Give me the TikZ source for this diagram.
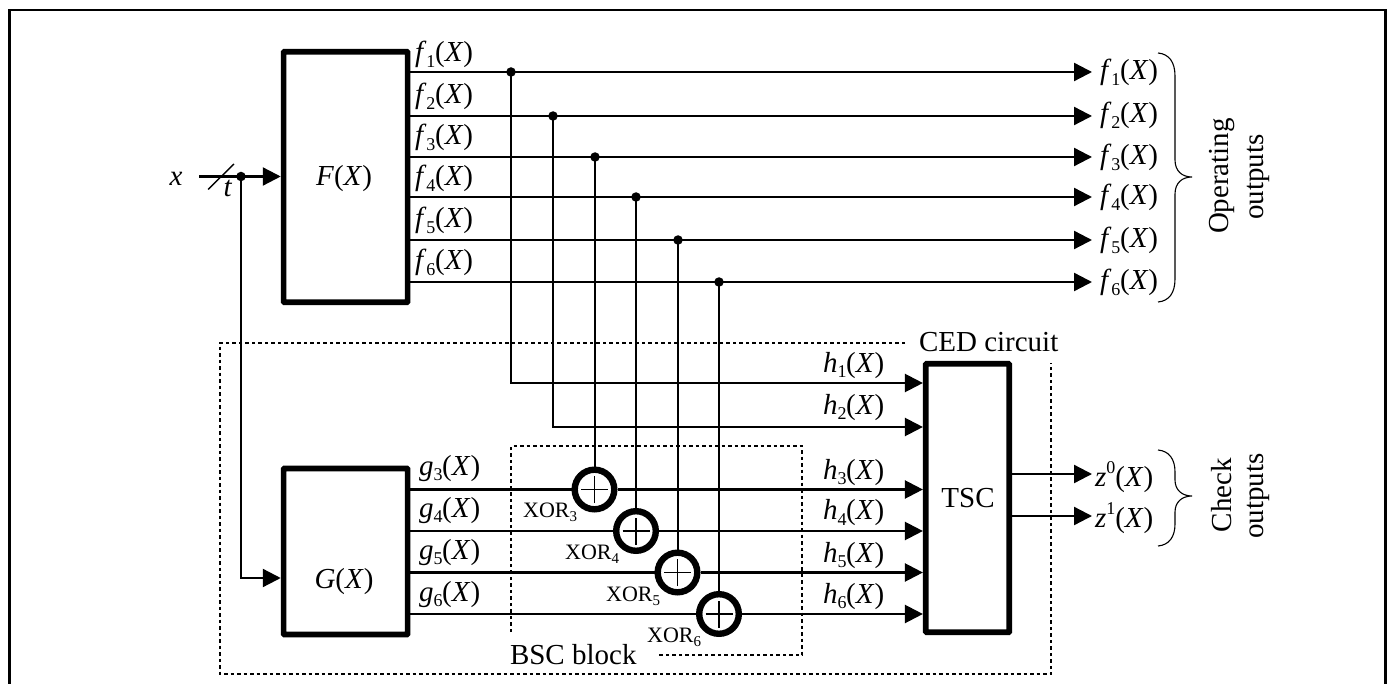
\documentclass[tikz,border=0pt]{standalone}
\usepackage{fontspec}
\setmainfont{Liberation Serif}
\usetikzlibrary{arrows.meta}
\newcommand{\lab}[2]{\textit{#1}\raisebox{-0.2em}{\fontsize{18}{18}\selectfont #2}\kern-0.3pt(\textit{X})}
\newcommand{\labup}[2]{\textit{#1}\raisebox{0.42em}{\fontsize{18}{18}\selectfont #2}(\textit{X})}
\newcommand{\xorlab}[1]{XOR\raisebox{-0.2em}{\fontsize{15}{15}\selectfont #1}}
\begin{document}
\begin{tikzpicture}[x=1pt,y=-1pt,
  every node/.style={font=\fontsize{29}{31}\selectfont},
  wire/.style={line width=2.3pt},
  arr/.style={wire,-{Triangle[length=18pt,width=18pt]}},
  block/.style={draw,line width=5.7pt,rounded corners=0.8pt,inner sep=0pt,align=center},
  dotn/.style={circle,fill=black,inner sep=0pt,minimum size=9.5pt},
  xorn/.style={circle,draw,line width=6.4pt,inner sep=0pt,minimum size=39.6pt},
  txt/.style={anchor=base west,inner sep=0pt,outer sep=0pt},
  small/.style={anchor=base west,inner sep=0pt,font=\fontsize{22}{24}\selectfont},
  rot/.style={rotate=90,inner sep=0pt},
  dot box/.style={line width=2pt,dash pattern=on 3.5pt off 3pt},
  brace/.style={line width=1.1pt}]
\useasboundingbox (0,0) rectangle (1391,684);
% frame
\draw[line width=2.7pt] (9.6,684) -- (9.6,10) -- (1385.7,10) -- (1385.7,684);
% dotted boxes
\draw[dot box] (905,342.5) -- (220,342.5) -- (220,674) -- (1051,674) -- (1051,363);
\draw[dot box] (511,632) -- (511,446) -- (802,446) -- (802,655) -- (657,655);
% blocks
\node[block,minimum width=124pt,minimum height=250.5pt] (F) at (345.6,177) {};
\node[block,minimum width=124pt,minimum height=166pt] (G) at (345.6,551.5) {};
\node[block,minimum width=83.5pt,minimum height=268.5pt] (T) at (967.5,498) {};
\node[txt,anchor=base] (Ft) at (344,186) {\textit{F}(\textit{X})};
\node[txt,anchor=base] (Gt) at (344,588) {\textit{G}(\textit{X})};
\node[txt,anchor=base] (Tt) at (968,507) {TSC};
% taps
\node[dotn] (d1) at (511,72) {};
\node[dotn] (d2) at (553,116) {};
\node[dotn] (d3) at (595,157) {};
\node[dotn] (d4) at (636,197) {};
\node[dotn] (d5) at (678,240) {};
\node[dotn] (d6) at (719,282) {};
\foreach \i in {1,...,6}{
  \coordinate (e\i) at (1092,0 |- d\i);
  \draw[arr] (F.east |- d\i) -- (d\i.center) -- (1092,0 |- d\i);
}
% input
\node[txt,anchor=base] (xt) at (176,186) {\textit{x}};
\coordinate (in) at (199,176.5);
\node[dotn] (din) at (241,176.5) {};
\coordinate (s1) at (208,189.5);
\coordinate (s2) at (234,164);
\node[txt,anchor=base] (tt) at (228,197) {\textit{t}};
\draw[wire] (in) -- (din.center);
\draw[line width=1.4pt] (s1) -- (s2);
\draw[arr] (din.center) -- (din.center -| F.west);
\coordinate (gin) at (241,578);
\draw[arr] (din.center) -- (gin) -- (gin -| G.west);
% XOR
\node[xorn] (x3) at (594.5,489.5) {};
\node[xorn] (x4) at (636,531) {};
\node[xorn] (x5) at (677.5,572.5) {};
\node[xorn] (x6) at (719,614) {};
\foreach \i in {3,...,6}{
  \draw[wire] (d\i.center) -- (d\i.center |- x\i.north);
  \draw[wire] (G.east |- x\i.west) -- (x\i.west);
  \draw[arr] (x\i.east) -- (x\i.east -| T.west);
  \draw[line width=1.7pt] ([xshift=-13.5pt]x\i.center) -- ([xshift=13.5pt]x\i.center);
  \draw[line width=1.7pt] ([yshift=-13.5pt]x\i.center) -- ([yshift=13.5pt]x\i.center);
}
\coordinate (h1) at (511,383);
\coordinate (h2) at (553,427);
\draw[arr] (d1.center) -- (h1) -- (h1 -| T.west);
\draw[arr] (d2.center) -- (h2) -- (h2 -| T.west);
% TSC outputs
\coordinate (z0) at (1092,474);
\coordinate (z1) at (1092,516);
\draw[arr] (T.east |- z0) -- (z0);
\draw[arr] (T.east |- z1) -- (z1);
% labels
\node[txt] (lf1) at (415,62) {\lab{f}{1}};
\node[txt] (lf2) at (415,103.5) {\lab{f}{2}};
\node[txt] (lf3) at (415,145) {\lab{f}{3}};
\node[txt] (lf4) at (415,185.5) {\lab{f}{4}};
\node[txt] (lf5) at (415,228) {\lab{f}{5}};
\node[txt] (lf6) at (415,270) {\lab{f}{6}};
\node[txt] (rf1) at (1100,80) {\lab{f}{1}};
\node[txt] (rf2) at (1100,123) {\lab{f}{2}};
\node[txt] (rf3) at (1100,165) {\lab{f}{3}};
\node[txt] (rf4) at (1100,205) {\lab{f}{4}};
\node[txt] (rf5) at (1100,248) {\lab{f}{5}};
\node[txt] (rf6) at (1100,290) {\lab{f}{6}};
\node[txt] (lg3) at (419,475) {\lab{g}{3}};
\node[txt] (lg4) at (419,517) {\lab{g}{4}};
\node[txt] (lg5) at (419,559) {\lab{g}{5}};
\node[txt] (lg6) at (419,601) {\lab{g}{6}};
\node[txt] (lh1) at (823,372) {\lab{h}{1}};
\node[txt] (lh2) at (823,414) {\lab{h}{2}};
\node[txt] (lh3) at (823,479) {\lab{h}{3}};
\node[txt] (lh4) at (823,519.5) {\lab{h}{4}};
\node[txt] (lh5) at (823,562) {\lab{h}{5}};
\node[txt] (lh6) at (823,603) {\lab{h}{6}};
\node[txt] (lz0) at (1095,486) {\labup{z}{0}};
\node[txt] (lz1) at (1095,527) {\labup{z}{1}};
\node[small] (nx3) at (523,517) {\xorlab{3}};
\node[small] (nx4) at (565,559) {\xorlab{4}};
\node[small] (nx5) at (606,601) {\xorlab{5}};
\node[small] (nx6) at (647,642) {\xorlab{6}};
\node[txt] (bsc) at (510,664) {BSC block};
\node[txt] (ced) at (919,351) {CED circuit};
% braces
\draw[brace] (1158,53) .. controls (1169,54) and (1175,62) .. (1175,76) -- (1175,160)
  .. controls (1175,171) and (1182,177) .. (1192,177)
  .. controls (1182,177) and (1175,183) .. (1175,194) -- (1175,279)
  .. controls (1175,293) and (1169,301) .. (1158,302);
\draw[brace] (1158,450) .. controls (1169,451) and (1175,459) .. (1175,472) -- (1175,480)
  .. controls (1175,490) and (1182,496) .. (1192,496)
  .. controls (1182,496) and (1175,502) .. (1175,512) -- (1175,524)
  .. controls (1175,537) and (1169,545) .. (1158,546);
\node[rot] (op1) at (1222,176) {Operating};
\node[rot] (op2) at (1258,177) {outputs};
\node[rot] (ch1) at (1222,495) {Check};
\node[rot] (ch2) at (1258,496) {outputs};
\end{tikzpicture}
\end{document}
